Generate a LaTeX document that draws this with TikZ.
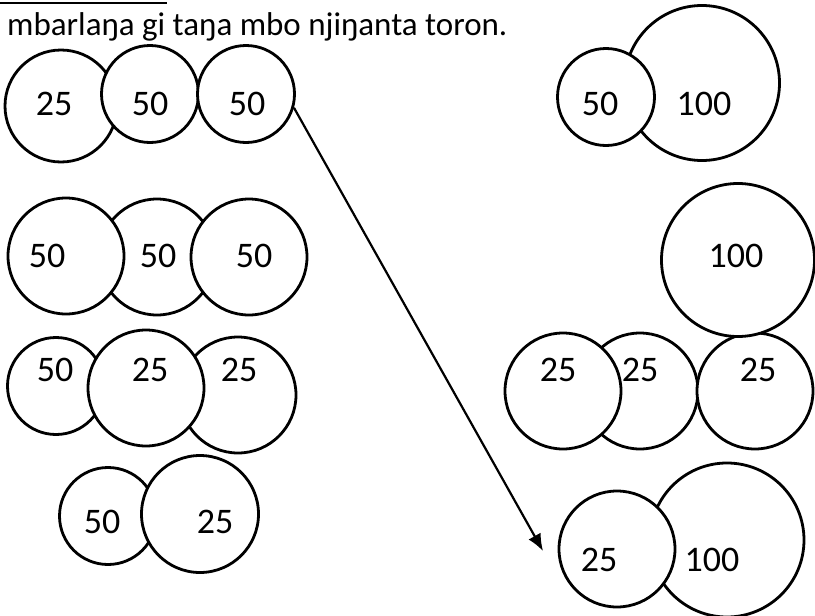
\documentclass[tikz,border=0pt]{standalone}
\usepackage{fontspec}
\setmainfont{Carlito}
\usepackage{tikz}
\usetikzlibrary{arrows.meta}

\tikzset{
    coin/.style={circle, draw, fill=white, line width=2.8pt, inner sep=0pt, minimum size=#1},
    val/.style={font=\fontsize{36}{40}\selectfont, inner sep=0pt},
}

\begin{document}
\begin{tikzpicture}[x=1pt, y=-1pt]
    \useasboundingbox (0,0) rectangle (815,616);

    % Heading (cut off at the top)
    \draw[line width=2.5pt] (0,3) -- (167,3);
    \node[anchor=base west, inner sep=0pt, font=\fontsize{33}{36}\selectfont] (head) at (7,35) {mbarlaŋa gi taŋa mbo njiŋanta toron.};

    % Left column
    \node[coin=112] (a1) at (61,106) {};
    \node[coin=97] (a2) at (150,94) {};
    \node[coin=97] (a3) at (246,94) {};

    \node[coin=116] (b2) at (157,257) {};
    \node[coin=116] (b1) at (66,256) {};
    \node[coin=116] (b3) at (249,257) {};

    \node[coin=97] (c1) at (56,386) {};
    \node[coin=116] (c3) at (238,395) {};
    \node[coin=116] (c2) at (146,388) {};

    \node[coin=97] (d1) at (108,516) {};
    \node[coin=117] (d2) at (200,514) {};

    % Right column
    \node[coin=155] (e2) at (702,83) {};
    \node[coin=97] (e1) at (606,97) {};

    \node[coin=116] (g2) at (640,391) {};
    \node[coin=116] (g1) at (563,391) {};
    \node[coin=116] (g3) at (755,391) {};
    \node[coin=153] (f1) at (738,260) {};

    \node[coin=154] (h2) at (727,540) {};
    \node[coin=116] (h1) at (617,549) {};

    % Values
    \node[val] (va1) at (54,104) {25};
    \node[val] (va2) at (150,104) {50};
    \node[val] (va3) at (247,104) {50};
    \node[val] (vb1) at (47,256) {50};
    \node[val] (vb2) at (158,256) {50};
    \node[val] (vb3) at (254,256) {50};
    \node[val] (vc1) at (55,370) {50};
    \node[val] (vc2) at (150,370) {25};
    \node[val] (vc3) at (239,370) {25};
    \node[val] (vd1) at (102,522) {50};
    \node[val] (vd2) at (215,522) {25};
    \node[val] (ve1) at (600,104) {50};
    \node[val] (ve2) at (704,104) {100};
    \node[val] (vf1) at (736,256) {100};
    \node[val] (vg1) at (558,370) {25};
    \node[val] (vg2) at (640,370) {25};
    \node[val] (vg3) at (758,370) {25};
    \node[val] (vh1) at (599,560) {25};
    \node[val] (vh2) at (712,560) {100};

    % Arrow
    \coordinate (tip) at (543,551);
    \draw[line width=2.2pt, -{Latex[length=17pt, width=14pt]}] (a3.-16) -- (tip);
\end{tikzpicture}
\end{document}
